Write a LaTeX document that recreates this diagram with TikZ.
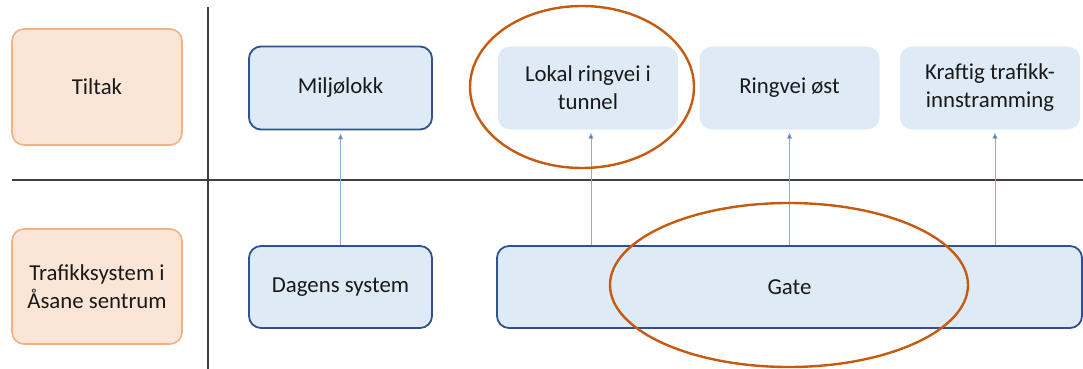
\documentclass[tikz,border=0pt]{standalone}
\usepackage{fontspec}
\setmainfont{Carlito}
\usetikzlibrary{positioning,arrows.meta}

\definecolor{boxblue}{HTML}{DEEBF7}
\definecolor{lineblue}{HTML}{2F528F}
\definecolor{boxorange}{HTML}{FBE5D6}
\definecolor{lineorange}{HTML}{F4B183}
\definecolor{ringorange}{HTML}{C55A11}
\definecolor{arrowblue}{HTML}{8FAADC}

\tikzset{
  rowbox/.style={rounded corners=12pt, fill=boxorange, draw=lineorange, line width=1.6pt,
    minimum width=170pt, minimum height=116pt, align=center, text=black!90},
  sysbox/.style={rounded corners=12pt, fill=boxblue, draw=lineblue, line width=1.8pt,
    minimum height=82pt, align=center, text=black!90},
  tiltakbox/.style={rounded corners=12pt, fill=boxblue, minimum width=180pt,
    minimum height=83pt, align=center, text=black!90},
  uparrow/.style={draw=arrowblue, line width=0.9pt, -{Triangle[length=6pt,width=5pt,fill=lineblue!70!arrowblue]},
    shorten >=3pt},
  ring/.style={draw=ringorange, line width=2.4pt},
  grid/.style={draw=black!75, line width=1.3pt}
}

\begin{document}
\begin{tikzpicture}[x=1pt, y=-1pt, font=\fontsize{22.8}{28}\selectfont]
\useasboundingbox (0,0) rectangle (1083,369);

\def\ytop{88}
\def\ybot{287}

\coordinate (vtop) at (208,7);
\coordinate (vbot) at (208,369);
\coordinate (hl) at (12,180);
\coordinate (hr) at (1083,180);
\draw[grid] (vtop) -- (vbot);
\draw[grid] (hl) -- (hr);

\node[rowbox] (tiltak) at (97,87) {Tiltak};
\node[rowbox, minimum height=115pt] (trafikk) at (97,286.5) {Trafikksystem i\\Åsane sentrum};

\node[sysbox, minimum width=183pt, minimum height=83pt] (miljo) at (340.5,\ytop) {Miljølokk};
\node[tiltakbox] (lokal) at (588,\ytop) {Lokal ringvei i\\tunnel};
\node[tiltakbox] (ringvei) at (789.5,\ytop) {Ringvei øst};
\node[tiltakbox] (kraftig) at (990,\ytop) {Kraftig trafikk-\\innstramming};

\node[sysbox, minimum width=183pt] (dagens) at (340.5,\ybot) {Dagens system};
\node[sysbox, minimum width=585pt] (gate) at (789.5,\ybot) {Gate};

\draw[uparrow] (dagens.north) -- (miljo.south);
\draw[uparrow] ([xshift=3pt]lokal.south |- gate.north) -- ([xshift=3pt]lokal.south);
\draw[uparrow] (ringvei.south |- gate.north) -- (ringvei.south);
\draw[uparrow] ([xshift=5pt]kraftig.south |- gate.north) -- ([xshift=5pt]kraftig.south);

\draw[ring] (582,87) ellipse (112pt and 81pt);
\draw[ring] (789,285) ellipse (179pt and 82pt);

\end{tikzpicture}
\end{document}
